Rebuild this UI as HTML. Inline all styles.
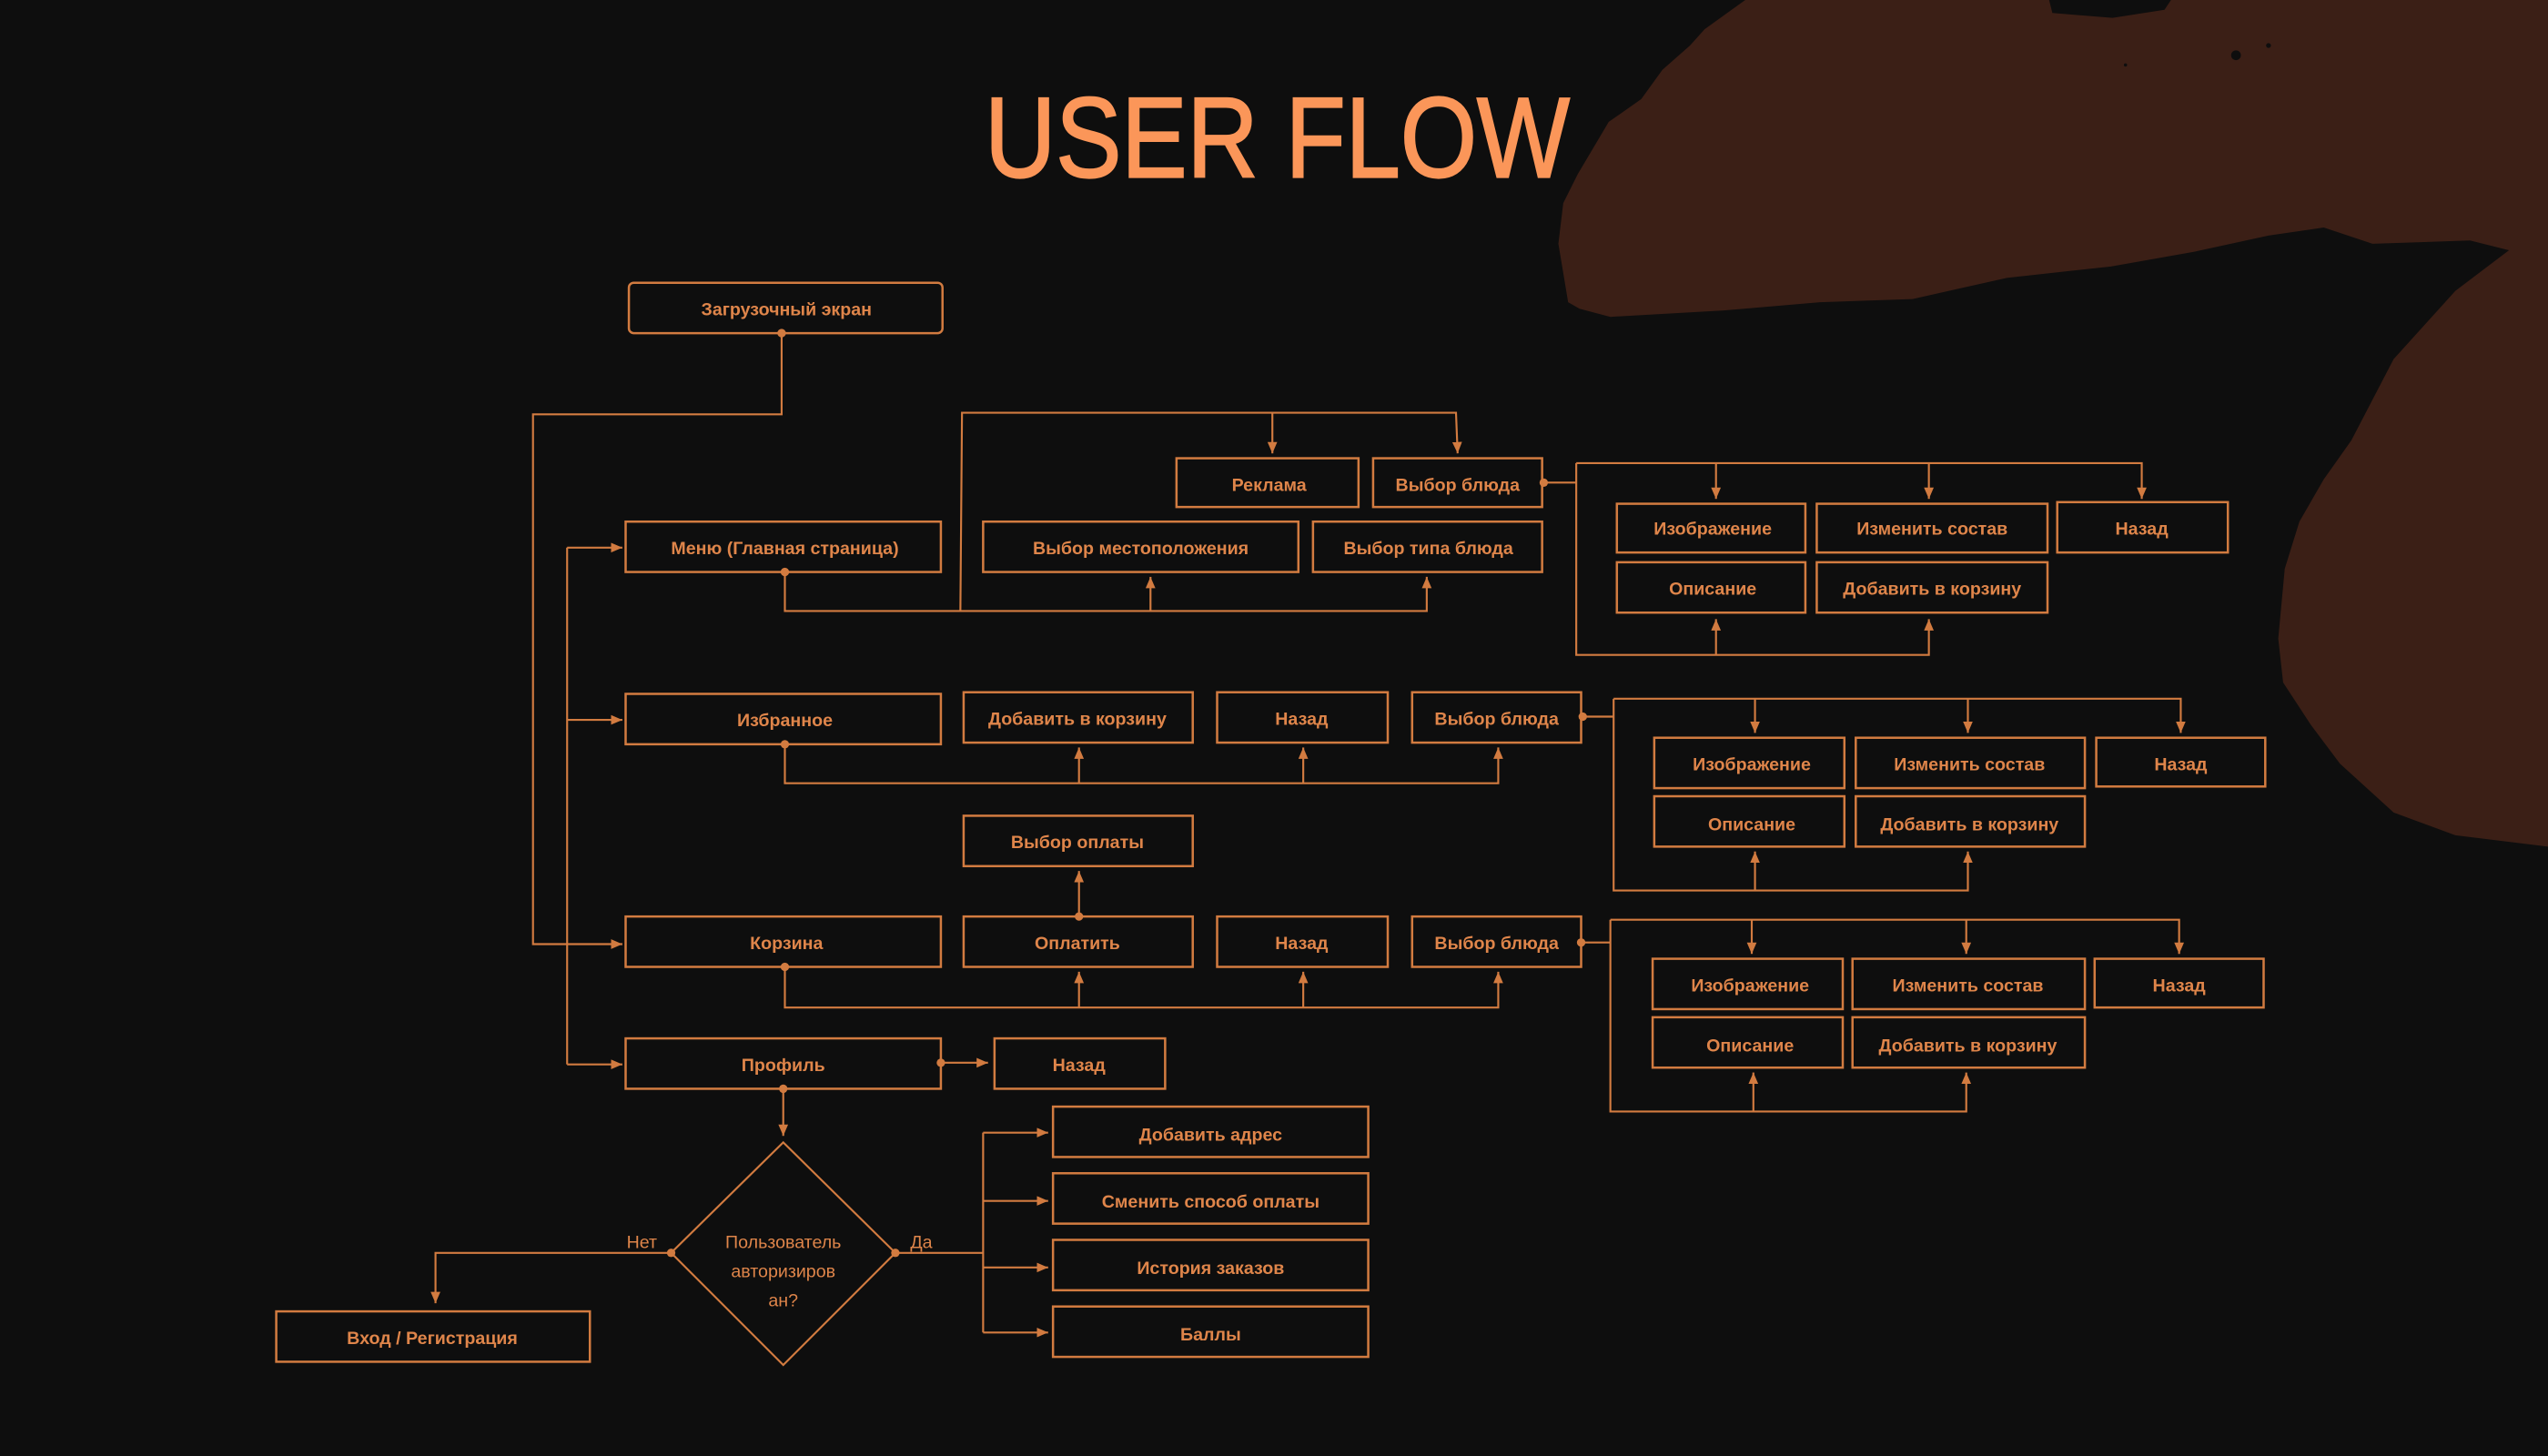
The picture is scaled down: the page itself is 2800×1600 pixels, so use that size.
<!DOCTYPE html>
<html><head><meta charset="utf-8"><style>
html,body{margin:0;padding:0;background:#0e0e0e;}
svg{display:block}
text{font-family:"Liberation Sans","DejaVu Sans",sans-serif;font-weight:bold;fill:#df854a;}
</style></head><body>
<svg width="2800" height="1600" viewBox="0 0 1568 896" xmlns="http://www.w3.org/2000/svg">
<defs>
<marker id="a" markerUnits="userSpaceOnUse" markerWidth="10" markerHeight="10" refX="7" refY="3" orient="auto"><path d="M0,0 L7,3 L0,6 z" fill="#d27b40"/></marker>
</defs>
<rect width="1568" height="896" fill="#0e0e0e"/>
<path fill="#3b1f16" d="M1074,0 L1261,0 L1263,8 L1300,11 L1332,6 L1336,0 L1568,0 L1568,521 L1511,514 L1473,500 L1440,470 L1422,446 L1405,420 L1402,393 L1406,350 L1415,321 L1430,295 L1447,271 L1473,221 L1511,179 L1544,154 L1520,148 L1460,150 L1430,140 L1396,145 L1350,155 L1299,164 L1235,171 L1177,184 L1120,186 L1061,191 L991,195 L972,190 L965,186 L959,150 L962,125 L971,107 L990,75 L1010,61 L1023,43 L1040,28 L1049,18 Z"/>
<circle cx="1376" cy="34" r="3" fill="#0e0e0e"/><circle cx="1396" cy="28" r="1.5" fill="#0e0e0e"/><circle cx="1308" cy="40" r="1" fill="#0e0e0e"/>
<text x="786" y="109" text-anchor="middle" font-size="70" textLength="360" lengthAdjust="spacingAndGlyphs" style="fill:#fb9659;font-weight:normal;stroke:#fb9659;stroke-width:1.2">USER FLOW</text>

<g fill="none" stroke="#d27b40" stroke-width="1.4">
<rect x="387" y="174" width="193" height="31" rx="3"/>
<rect x="385" y="321" width="194" height="31"/>
<rect x="724" y="282" width="112" height="30"/>
<rect x="845" y="282" width="104" height="30"/>
<rect x="605" y="321" width="194" height="31"/>
<rect x="808" y="321" width="141" height="31"/>
<rect x="995" y="310" width="116" height="30"/>
<rect x="1118" y="310" width="142" height="30"/>
<rect x="1266" y="309" width="105" height="31"/>
<rect x="995" y="346" width="116" height="31"/>
<rect x="1118" y="346" width="142" height="31"/>

<rect x="385" y="427" width="194" height="31"/>
<rect x="593" y="426" width="141" height="31"/>
<rect x="749" y="426" width="105" height="31"/>
<rect x="869" y="426" width="104" height="31"/>
<rect x="1018" y="454" width="117" height="31"/>
<rect x="1142" y="454" width="141" height="31"/>
<rect x="1290" y="454" width="104" height="30"/>
<rect x="1018" y="490" width="117" height="31"/>
<rect x="1142" y="490" width="141" height="31"/>

<rect x="593" y="502" width="141" height="31"/>
<rect x="385" y="564" width="194" height="31"/>
<rect x="593" y="564" width="141" height="31"/>
<rect x="749" y="564" width="105" height="31"/>
<rect x="869" y="564" width="104" height="31"/>
<rect x="1017" y="590" width="117" height="31"/>
<rect x="1140" y="590" width="143" height="31"/>
<rect x="1289" y="590" width="104" height="30"/>
<rect x="1017" y="626" width="117" height="31"/>
<rect x="1140" y="626" width="143" height="31"/>

<rect x="385" y="639" width="194" height="31"/>
<rect x="612" y="639" width="105" height="31"/>
<polygon points="482,703 551,771 482,840 413,771" stroke-width="1.2"/>
<rect x="170" y="807" width="193" height="31"/>
<rect x="648" y="681" width="194" height="31"/>
<rect x="648" y="722" width="194" height="31"/>
<rect x="648" y="763" width="194" height="31"/>
<rect x="648" y="804" width="194" height="31"/>
</g>

<g fill="none" stroke="#d27b40" stroke-width="1.2">
<path d="M481,205 V255 H328 V581 H383" marker-end="url(#a)"/>
<path d="M349,337 V655"/>
<path d="M349,337 H383" marker-end="url(#a)"/>
<path d="M349,443 H383" marker-end="url(#a)"/>
<path d="M349,655 H383" marker-end="url(#a)"/>
<path d="M483,352 V376 H878 V355" marker-end="url(#a)"/>
<path d="M708,376 V355" marker-end="url(#a)"/>
<path d="M591,376 L592,254 H896 L897,279" marker-end="url(#a)"/>
<path d="M783,254 V279" marker-end="url(#a)"/>
<path d="M950,297 H970"/>
<path d="M970,285 V403 H1187 V381" marker-end="url(#a)"/>
<path d="M970,285 H1318 V307" marker-end="url(#a)"/>
<path d="M1056,285 V307" marker-end="url(#a)"/>
<path d="M1187,285 V307" marker-end="url(#a)"/>
<path d="M1056,403 V381" marker-end="url(#a)"/>
<path d="M483,458 V482 H922 V460" marker-end="url(#a)"/>
<path d="M664,482 V460" marker-end="url(#a)"/>
<path d="M802,482 V460" marker-end="url(#a)"/>
<path d="M974,441 H993"/>
<path d="M993,430 V548 H1211 V524" marker-end="url(#a)"/>
<path d="M993,430 H1342 V451" marker-end="url(#a)"/>
<path d="M1080,430 V451" marker-end="url(#a)"/>
<path d="M1211,430 V451" marker-end="url(#a)"/>
<path d="M1080,548 V524" marker-end="url(#a)"/>
<path d="M483,595 V620 H922 V598" marker-end="url(#a)"/>
<path d="M664,620 V598" marker-end="url(#a)"/>
<path d="M802,620 V598" marker-end="url(#a)"/>
<path d="M664,564 V536" marker-end="url(#a)"/>
<path d="M973,580 H991"/>
<path d="M991,566 V684 H1210 V660" marker-end="url(#a)"/>
<path d="M991,566 H1341 V587" marker-end="url(#a)"/>
<path d="M1078,566 V587" marker-end="url(#a)"/>
<path d="M1210,566 V587" marker-end="url(#a)"/>
<path d="M1079,684 V660" marker-end="url(#a)"/>
<path d="M579,654 H608" marker-end="url(#a)"/>
<path d="M482,670 V699" marker-end="url(#a)"/>
<path d="M413,771 H268 V802" marker-end="url(#a)"/>
<path d="M551,771 H605"/>
<path d="M605,697 V820"/>
<path d="M605,697 H645" marker-end="url(#a)"/>
<path d="M605,739 H645" marker-end="url(#a)"/>
<path d="M605,780 H645" marker-end="url(#a)"/>
<path d="M605,820 H645" marker-end="url(#a)"/>
</g>
<g fill="#d27b40">
<circle cx="481" cy="205" r="2.6"/><circle cx="483" cy="352" r="2.6"/><circle cx="950" cy="297" r="2.6"/>
<circle cx="483" cy="458" r="2.6"/><circle cx="974" cy="441" r="2.6"/>
<circle cx="483" cy="595" r="2.6"/><circle cx="664" cy="564" r="2.6"/><circle cx="973" cy="580" r="2.6"/>
<circle cx="579" cy="654" r="2.6"/><circle cx="482" cy="670" r="2.6"/><circle cx="413" cy="771" r="2.6"/><circle cx="551" cy="771" r="2.6"/>
</g>

<g font-size="11" text-anchor="middle">
<text x="484" y="194">Загрузочный экран</text>
<text x="483" y="341">Меню (Главная страница)</text>
<text x="781" y="302">Реклама</text>
<text x="897" y="302">Выбор блюда</text>
<text x="702" y="341">Выбор местоположения</text>
<text x="879" y="341">Выбор типа блюда</text>
<text x="1054" y="329">Изображение</text>
<text x="1189" y="329">Изменить состав</text>
<text x="1318" y="329">Назад</text>
<text x="1054" y="366">Описание</text>
<text x="1189" y="366">Добавить в корзину</text>

<text x="483" y="447">Избранное</text>
<text x="663" y="446">Добавить в корзину</text>
<text x="801" y="446">Назад</text>
<text x="921" y="446">Выбор блюда</text>
<text x="1078" y="474">Изображение</text>
<text x="1212" y="474">Изменить состав</text>
<text x="1342" y="474">Назад</text>
<text x="1078" y="511">Описание</text>
<text x="1212" y="511">Добавить в корзину</text>

<text x="663" y="522">Выбор оплаты</text>
<text x="484" y="584">Корзина</text>
<text x="663" y="584">Оплатить</text>
<text x="801" y="584">Назад</text>
<text x="921" y="584">Выбор блюда</text>
<text x="1077" y="610">Изображение</text>
<text x="1211" y="610">Изменить состав</text>
<text x="1341" y="610">Назад</text>
<text x="1077" y="647">Описание</text>
<text x="1211" y="647">Добавить в корзину</text>

<text x="482" y="659">Профиль</text>
<text x="664" y="659">Назад</text>
<text x="745" y="702">Добавить адрес</text>
<text x="745" y="743">Сменить способ оплаты</text>
<text x="745" y="784">История заказов</text>
<text x="745" y="825">Баллы</text>
<text x="266" y="827">Вход / Регистрация</text>
</g>
<g font-size="11" text-anchor="middle">
<text x="482" y="768" style="font-weight:normal">Пользователь</text>
<text x="482" y="786" style="font-weight:normal">авторизиров</text>
<text x="482" y="804" style="font-weight:normal">ан?</text>
<text x="395" y="768" style="font-weight:normal">Нет</text>
<text x="567" y="768" style="font-weight:normal">Да</text>
</g>
</svg>
</body></html>
